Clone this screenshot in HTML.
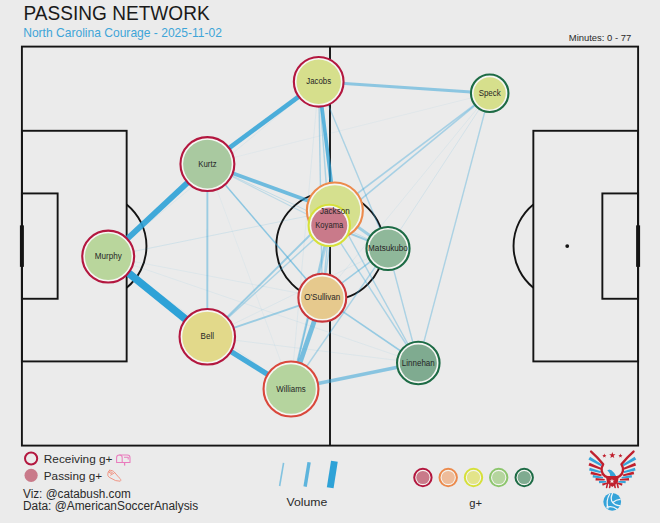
<!DOCTYPE html>
<html><head><meta charset="utf-8"><style>
html,body{margin:0;padding:0;background:#ebebeb;}
body{width:660px;height:523px;overflow:hidden;}
svg{display:block;font-family:"Liberation Sans",sans-serif;}
</style></head><body>
<svg width="660" height="523" viewBox="0 0 660 523">
<rect width="660" height="523" fill="#ebebeb"/>

<text x="23.5" y="19.7" font-size="19.4" fill="#1a1a1a" textLength="186.2" lengthAdjust="spacingAndGlyphs">PASSING NETWORK</text>
<text x="23.2" y="36.6" font-size="12.7" fill="#3ea5d8" textLength="198.8" lengthAdjust="spacingAndGlyphs">North Carolina Courage - 2025-11-02</text>
<text x="568.8" y="41.2" font-size="9.8" fill="#2a2a2a" textLength="62.4" lengthAdjust="spacingAndGlyphs">Minutes: 0 - 77</text>
<g stroke="#141414" stroke-width="1.9" fill="none"><rect x="21.9" y="46.6" width="616.2" height="399.0" fill="none"/><line x1="330.0" y1="46.6" x2="330.0" y2="445.6"/><circle cx="330.0" cy="246.10000000000002" r="53.7" fill="none"/><rect x="21.9" y="130.78900000000002" width="104.75400000000002" height="230.62200000000004" fill="none"/><rect x="21.9" y="193.432" width="35.7396" height="105.33600000000004" fill="none"/><path d="M126.65400000000002,204.44558704050678 A53.7,53.7 0 0 1 126.65400000000002,287.75441295949327" fill="none"/><circle cx="92.763" cy="246.10000000000002" r="1.9" fill="#141414" stroke="none"/><line x1="21.9" y1="225.35199999999998" x2="21.9" y2="266.848" stroke-width="4"/><rect x="533.346" y="130.78900000000002" width="104.75400000000002" height="230.62200000000004" fill="none"/><rect x="602.3604" y="193.432" width="35.739599999999996" height="105.33600000000004" fill="none"/><path d="M533.346,204.44558704050672 A53.7,53.7 0 0 0 533.346,287.7544129594933" fill="none"/><circle cx="567.237" cy="246.10000000000002" r="1.9" fill="#141414" stroke="none"/><line x1="638.1" y1="225.35199999999998" x2="638.1" y2="266.848" stroke-width="4"/></g>
<g stroke="#2ea2d7" stroke-linecap="butt"><line x1="108.2" y1="256.6" x2="207.3" y2="336.8" stroke-width="7.6" stroke-opacity="1.0"/><line x1="108.2" y1="256.6" x2="207.4" y2="164.1" stroke-width="5.8" stroke-opacity="0.9"/><line x1="207.3" y1="336.8" x2="291.0" y2="389.0" stroke-width="5.4" stroke-opacity="0.88"/><line x1="318.7" y1="81.8" x2="207.4" y2="164.1" stroke-width="4.7" stroke-opacity="0.85"/><line x1="291.0" y1="389.0" x2="322.3" y2="297.7" stroke-width="4.8" stroke-opacity="0.62"/><line x1="207.4" y1="164.1" x2="334.85" y2="210.5" stroke-width="3.7" stroke-opacity="0.66"/><line x1="318.7" y1="81.8" x2="334.85" y2="210.5" stroke-width="3.6" stroke-opacity="0.75"/><line x1="291.0" y1="389.0" x2="418.3" y2="363.0" stroke-width="3.5" stroke-opacity="0.52"/><line x1="318.7" y1="81.8" x2="489.7" y2="93.3" stroke-width="3.0" stroke-opacity="0.5"/><line x1="207.4" y1="164.1" x2="207.3" y2="336.8" stroke-width="1.9" stroke-opacity="0.42"/><line x1="207.4" y1="164.1" x2="322.3" y2="297.7" stroke-width="1.5" stroke-opacity="0.5"/><line x1="489.7" y1="93.3" x2="334.85" y2="210.5" stroke-width="1.6" stroke-opacity="0.36"/><line x1="489.7" y1="93.3" x2="329.25" y2="225.4" stroke-width="1.6" stroke-opacity="0.36"/><line x1="322.3" y1="297.7" x2="418.3" y2="363.0" stroke-width="1.6" stroke-opacity="0.45"/><line x1="207.3" y1="336.8" x2="322.3" y2="297.7" stroke-width="1.9" stroke-opacity="0.42"/><line x1="207.3" y1="336.8" x2="334.85" y2="210.5" stroke-width="1.9" stroke-opacity="0.42"/><line x1="334.85" y1="210.5" x2="388.0" y2="248.5" stroke-width="2.8" stroke-opacity="0.4"/><line x1="329.25" y1="225.4" x2="388.0" y2="248.5" stroke-width="1.9" stroke-opacity="0.42"/><line x1="291.0" y1="389.0" x2="329.25" y2="225.4" stroke-width="1.9" stroke-opacity="0.42"/><line x1="318.7" y1="81.8" x2="388.0" y2="248.5" stroke-width="1.4" stroke-opacity="0.34"/><line x1="388.0" y1="248.5" x2="418.3" y2="363.0" stroke-width="1.4" stroke-opacity="0.34"/><line x1="489.7" y1="93.3" x2="418.3" y2="363.0" stroke-width="1.4" stroke-opacity="0.34"/><line x1="207.4" y1="164.1" x2="329.25" y2="225.4" stroke-width="1.1" stroke-opacity="0.24"/><line x1="318.7" y1="81.8" x2="322.3" y2="297.7" stroke-width="1.4" stroke-opacity="0.34"/><line x1="318.7" y1="81.8" x2="329.25" y2="225.4" stroke-width="1.4" stroke-opacity="0.34"/><line x1="291.0" y1="389.0" x2="334.85" y2="210.5" stroke-width="1.4" stroke-opacity="0.34"/><line x1="329.25" y1="225.4" x2="322.3" y2="297.7" stroke-width="1.4" stroke-opacity="0.34"/><line x1="334.85" y1="210.5" x2="322.3" y2="297.7" stroke-width="1.4" stroke-opacity="0.34"/><line x1="329.25" y1="225.4" x2="418.3" y2="363.0" stroke-width="1.4" stroke-opacity="0.34"/><line x1="334.85" y1="210.5" x2="418.3" y2="363.0" stroke-width="1.4" stroke-opacity="0.34"/><line x1="207.3" y1="336.8" x2="329.25" y2="225.4" stroke-width="1.4" stroke-opacity="0.34"/><line x1="291.0" y1="389.0" x2="388.0" y2="248.5" stroke-width="1.4" stroke-opacity="0.34"/><line x1="322.3" y1="297.7" x2="388.0" y2="248.5" stroke-width="1.5" stroke-opacity="0.42"/><line x1="318.7" y1="81.8" x2="108.2" y2="256.6" stroke-width="0.8" stroke-opacity="0.1"/><line x1="489.7" y1="93.3" x2="207.4" y2="164.1" stroke-width="0.8" stroke-opacity="0.07"/><line x1="108.2" y1="256.6" x2="334.85" y2="210.5" stroke-width="0.9" stroke-opacity="0.15"/><line x1="108.2" y1="256.6" x2="322.3" y2="297.7" stroke-width="0.8" stroke-opacity="0.1"/><line x1="108.2" y1="256.6" x2="418.3" y2="363.0" stroke-width="0.8" stroke-opacity="0.1"/><line x1="207.3" y1="336.8" x2="418.3" y2="363.0" stroke-width="0.8" stroke-opacity="0.1"/><line x1="207.4" y1="164.1" x2="291.0" y2="389.0" stroke-width="0.8" stroke-opacity="0.08"/><line x1="489.7" y1="93.3" x2="322.3" y2="297.7" stroke-width="0.8" stroke-opacity="0.1"/><line x1="207.4" y1="164.1" x2="388.0" y2="248.5" stroke-width="1.0" stroke-opacity="0.22"/><line x1="318.7" y1="81.8" x2="291.0" y2="389.0" stroke-width="0.8" stroke-opacity="0.1"/><line x1="207.3" y1="336.8" x2="388.0" y2="248.5" stroke-width="0.8" stroke-opacity="0.1"/><line x1="489.7" y1="93.3" x2="388.0" y2="248.5" stroke-width="0.9" stroke-opacity="0.14"/><line x1="108.2" y1="256.6" x2="291.0" y2="389.0" stroke-width="0.8" stroke-opacity="0.1"/></g>
<circle cx="318.7" cy="81.8" r="24.849999999999998" fill="#f6f6f3" stroke="#b3173f" stroke-width="2.1"/><circle cx="318.7" cy="81.8" r="22.2" fill="#d6df8c"/><circle cx="489.7" cy="93.3" r="18.749999999999996" fill="#f6f6f3" stroke="#1d6b45" stroke-width="2.1"/><circle cx="489.7" cy="93.3" r="16.099999999999998" fill="#d6df8c"/><circle cx="207.4" cy="164.1" r="26.95" fill="#f6f6f3" stroke="#b3173f" stroke-width="2.1"/><circle cx="207.4" cy="164.1" r="24.3" fill="#a9c9a0"/><circle cx="108.2" cy="256.6" r="25.95" fill="#f6f6f3" stroke="#b3173f" stroke-width="2.1"/><circle cx="108.2" cy="256.6" r="23.3" fill="#b9d69c"/><circle cx="207.3" cy="336.8" r="27.749999999999996" fill="#f6f6f3" stroke="#b3173f" stroke-width="2.1"/><circle cx="207.3" cy="336.8" r="25.099999999999998" fill="#e2d98a"/><circle cx="291.0" cy="389.0" r="27.45" fill="#f6f6f3" stroke="#d9483c" stroke-width="2.1"/><circle cx="291.0" cy="389.0" r="24.8" fill="#b5d49e"/><circle cx="322.3" cy="297.7" r="23.95" fill="#f6f6f3" stroke="#c9363b" stroke-width="2.1"/><circle cx="322.3" cy="297.7" r="21.3" fill="#e6c98d"/><circle cx="388.0" cy="248.5" r="21.549999999999997" fill="#f6f6f3" stroke="#1d6b45" stroke-width="2.1"/><circle cx="388.0" cy="248.5" r="18.9" fill="#8fb89a"/><circle cx="418.3" cy="363.0" r="21.249999999999996" fill="#f6f6f3" stroke="#1d6b45" stroke-width="2.1"/><circle cx="418.3" cy="363.0" r="18.599999999999998" fill="#7fab90"/><circle cx="334.85" cy="210.5" r="27.999999999999996" fill="#f6f6f3" stroke="#ec8a4c" stroke-width="2.1"/><circle cx="334.85" cy="210.5" r="25.349999999999998" fill="#d5e08e"/><circle cx="329.25" cy="225.4" r="20.65" fill="#f6f6f3" stroke="#d6e03a" stroke-width="2.1"/><circle cx="329.25" cy="225.4" r="18.0" fill="#c97a8a"/>
<text x="318.7" y="84.3" font-size="8.9" fill="#262626" text-anchor="middle" textLength="24.8" lengthAdjust="spacingAndGlyphs">Jacobs</text><text x="489.7" y="95.8" font-size="8.9" fill="#262626" text-anchor="middle" textLength="22.1" lengthAdjust="spacingAndGlyphs">Speck</text><text x="207.4" y="166.6" font-size="8.9" fill="#262626" text-anchor="middle" textLength="18.3" lengthAdjust="spacingAndGlyphs">Kurtz</text><text x="108.2" y="259.1" font-size="8.9" fill="#262626" text-anchor="middle" textLength="27.0" lengthAdjust="spacingAndGlyphs">Murphy</text><text x="207.3" y="339.3" font-size="8.9" fill="#262626" text-anchor="middle" textLength="13.4" lengthAdjust="spacingAndGlyphs">Bell</text><text x="291.0" y="391.5" font-size="8.9" fill="#262626" text-anchor="middle" textLength="29.3" lengthAdjust="spacingAndGlyphs">Williams</text><text x="322.3" y="300.2" font-size="8.9" fill="#262626" text-anchor="middle" textLength="36.0" lengthAdjust="spacingAndGlyphs">O'Sullivan</text><text x="388.0" y="251.0" font-size="8.9" fill="#262626" text-anchor="middle" textLength="39.8" lengthAdjust="spacingAndGlyphs">Matsukubo</text><text x="418.3" y="365.5" font-size="8.9" fill="#262626" text-anchor="middle" textLength="32.9" lengthAdjust="spacingAndGlyphs">Linnehan</text><text x="334.85" y="213.8" font-size="8.9" fill="#262626" text-anchor="middle" textLength="29.7" lengthAdjust="spacingAndGlyphs">Jackson</text><text x="329.25" y="227.9" font-size="8.9" fill="#262626" text-anchor="middle" textLength="27.9" lengthAdjust="spacingAndGlyphs">Koyama</text>
<circle cx="31.1" cy="458.5" r="6.1" fill="none" stroke="#b3173f" stroke-width="2"/>
<circle cx="31.1" cy="475.3" r="6.6" fill="#c97a8a"/>
<text x="43.8" y="463" font-size="10.6" fill="#2a2a2a" textLength="68.7" lengthAdjust="spacingAndGlyphs">Receiving g+</text>
<text x="43.8" y="480" font-size="10.6" fill="#2a2a2a" textLength="58.3" lengthAdjust="spacingAndGlyphs">Passing g+</text>
<text x="23" y="497.6" font-size="12.3" fill="#2a2a2a" textLength="107.8" lengthAdjust="spacingAndGlyphs">Viz: @catabush.com</text>
<text x="23" y="510.0" font-size="12.3" fill="#2a2a2a" textLength="175.2" lengthAdjust="spacingAndGlyphs">Data: @AmericanSoccerAnalysis</text>
<text x="286.4" y="505.9" font-size="11.2" fill="#2a2a2a" textLength="40.9" lengthAdjust="spacingAndGlyphs">Volume</text>
<text x="475.6" y="507" font-size="11.2" fill="#2a2a2a" text-anchor="middle">g+</text>
<line x1="283.6" y1="462.8" x2="279.6" y2="486" stroke="#2ea2d7" stroke-opacity="0.55" stroke-width="1.6"/>
<line x1="309.1" y1="462.2" x2="305.1" y2="486.6" stroke="#2ea2d7" stroke-opacity="0.75" stroke-width="3.4"/>
<line x1="334.4" y1="461.2" x2="330.2" y2="487.8" stroke="#2ea2d7" stroke-opacity="1" stroke-width="6.8"/>
<circle cx="422.9" cy="477.5" r="8.7" fill="#f4f4f0" stroke="#b3173f" stroke-width="2"/>
<circle cx="422.9" cy="477.5" r="6.6" fill="#c97a8a"/>
<circle cx="448.2" cy="477.5" r="8.7" fill="#f4f4f0" stroke="#ec8a4c" stroke-width="2"/>
<circle cx="448.2" cy="477.5" r="6.6" fill="#eebc9a"/>
<circle cx="473.5" cy="477.5" r="8.7" fill="#f4f4f0" stroke="#d6e03a" stroke-width="2"/>
<circle cx="473.5" cy="477.5" r="6.6" fill="#e3e48a"/>
<circle cx="498.7" cy="477.5" r="8.7" fill="#f4f4f0" stroke="#8cc66c" stroke-width="2"/>
<circle cx="498.7" cy="477.5" r="6.6" fill="#b5d59e"/>
<circle cx="524.2" cy="477.5" r="8.7" fill="#f4f4f0" stroke="#1d6b45" stroke-width="2"/>
<circle cx="524.2" cy="477.5" r="6.6" fill="#7fab90"/>
<g><path d="M588.41,459.61 L601.04,466.25 L602.05,464.54 L590.08,456.75 Z" fill="#35a3d9"/><path d="M634.56,456.75 L622.59,464.54 L623.60,466.25 L636.24,459.61 Z" fill="#35a3d9"/><path d="M588.52,465.54 L600.79,469.64 L601.45,467.93 L589.62,462.70 Z" fill="#c0202e"/><path d="M635.02,462.70 L623.19,467.93 L623.85,469.64 L636.12,465.54 Z" fill="#c0202e"/><path d="M589.06,470.57 L600.48,472.99 L600.91,471.37 L589.77,467.86 Z" fill="#35a3d9"/><path d="M634.87,467.86 L623.73,471.37 L624.16,472.99 L635.59,470.57 Z" fill="#35a3d9"/><path d="M590.45,474.14 L601.35,476.14 L601.74,474.50 L591.09,471.41 Z" fill="#c0202e"/><path d="M633.55,471.41 L622.90,474.50 L623.29,476.14 L634.19,474.14 Z" fill="#c0202e"/><path d="M592.62,477.43 L602.87,478.45 L603.10,476.94 L592.99,474.91 Z" fill="#35a3d9"/><path d="M631.65,474.91 L621.54,476.94 L621.77,478.45 L632.02,477.43 Z" fill="#35a3d9"/><path d="M595.52,480.49 L604.63,480.58 L604.73,479.06 L595.69,477.95 Z" fill="#c0202e"/><path d="M628.95,477.95 L619.91,479.06 L620.01,480.58 L629.12,480.49 Z" fill="#c0202e"/><path d="M599.05,483.25 L606.24,482.46 L606.18,481.08 L598.95,480.96 Z" fill="#35a3d9"/><path d="M625.70,480.96 L618.46,481.08 L618.40,482.46 L625.59,483.25 Z" fill="#35a3d9"/><path d="M602.72,485.75 L607.43,483.87 L607.03,482.55 L602.07,483.56 Z" fill="#c0202e"/><path d="M622.57,483.56 L617.61,482.55 L617.21,483.87 L621.92,485.75 Z" fill="#c0202e"/><path d="M591.11,451.56 Q597.73,457.33 603.16,464.29 C600.44,468.36 601.29,473.88 605.36,476.42 L609.18,477.87" fill="none" stroke="#c0202e" stroke-width="2.38" stroke-linecap="round" stroke-linejoin="round"/><path d="M633.53,451.56 Q626.91,457.33 621.48,464.29 C624.20,468.36 623.35,473.88 619.28,476.42 L615.46,477.87" fill="none" stroke="#c0202e" stroke-width="2.38" stroke-linecap="round" stroke-linejoin="round"/><path d="M607.23,470.40 L609.18,469.55 L611.47,470.23 L614.27,473.03 L616.56,476.68 L610.45,477.27 L609.78,473.45 L608.59,471.76 Z" fill="#35a3d9"/><path d="M605.79,476.00 L618.94,476.00 L617.67,482.79 L612.32,487.03 L607.06,482.79 Z" fill="#c0202e"/><line x1="607.48" y1="483.64" x2="606.64" y2="487.45" stroke="#c0202e" stroke-width="1.6" stroke-linecap="round"/><line x1="610.45" y1="483.64" x2="609.61" y2="487.45" stroke="#c0202e" stroke-width="1.6" stroke-linecap="round"/><line x1="614.27" y1="483.64" x2="615.12" y2="487.45" stroke="#c0202e" stroke-width="1.6" stroke-linecap="round"/><line x1="617.24" y1="483.64" x2="618.09" y2="487.45" stroke="#c0202e" stroke-width="1.6" stroke-linecap="round"/><path d="M604.34,453.57 L604.89,455.02 L606.44,455.09 L605.22,456.05 L605.64,457.55 L604.34,456.69 L603.05,457.55 L603.47,456.05 L602.25,455.09 L603.80,455.02 Z" fill="#c0202e"/><path d="M612.32,452.06 L613.14,454.24 L615.46,454.34 L613.64,455.79 L614.26,458.03 L612.32,456.74 L610.38,458.03 L611.00,455.79 L609.18,454.34 L611.51,454.24 Z" fill="#c0202e"/><path d="M620.47,453.57 L621.01,455.02 L622.56,455.09 L621.34,456.05 L621.76,457.55 L620.47,456.69 L619.17,457.55 L619.59,456.05 L618.37,455.09 L619.92,455.02 Z" fill="#c0202e"/><path d="M611.98,478.66 L612.62,480.38 L614.45,480.46 L613.02,481.60 L613.51,483.36 L611.98,482.35 L610.45,483.36 L610.94,481.60 L609.51,480.46 L611.34,480.38 Z" fill="#f2f2f2"/><circle cx="612.2" cy="501.8" r="8.9" fill="#35a3d9"/><g fill="none" stroke="#f0f6f9" stroke-width="1.25" stroke-linecap="round"><path d="M609.6,494.2 Q605.6,500.8 608.0,508.2"/><path d="M612.4000000000001,493.6 Q609.8000000000001,498.8 612.6,502.40000000000003 Q616.4000000000001,499.6 620.0,499.40000000000003"/><path d="M612.6,502.40000000000003 Q615.6,506.0 619.8000000000001,505.6"/><path d="M606.8000000000001,507.2 Q612.4000000000001,505.40000000000003 616.8000000000001,509.0"/></g></g>
<g fill="none" stroke="#e97cbd" stroke-width="1.05" stroke-linejoin="round">
<path d="M116.6,462.4 L116.6,457.8 Q116.6,455.0 119.4,455.0 L127.4,455.0 Q130.0,455.0 130.0,457.8 L130.0,462.4 Z"/>
<path d="M119.4,455.0 Q122.2,455.0 122.2,457.8 L122.2,462.4"/>
<path d="M124.0,457.2 L128.2,457.2 L128.2,459.6"/>
<line x1="124.6" y1="462.4" x2="124.6" y2="465.6" stroke-width="1.3"/>
</g>
<g fill="none" stroke="#f0907f" stroke-width="0.95" stroke-linejoin="round" stroke-linecap="round">
<path d="M109.6,470.3 C108.2,470.6 107.6,473.5 107.9,475.6 L109.2,477.3 L115.6,480.6 L120.2,481.2 C121.4,480.6 120.6,478.6 119.2,477.8 L114.2,472.0 C113.2,470.9 111.2,470.0 109.6,470.3 Z"/>
<path d="M109.2,472.2 C110.3,471.4 111.8,471.8 112.4,472.8 C111.2,473.8 109.8,473.6 109.2,472.2 Z"/>
<path d="M110.6,475.2 L114.2,473.0"/>
</g>

</svg></body></html>
